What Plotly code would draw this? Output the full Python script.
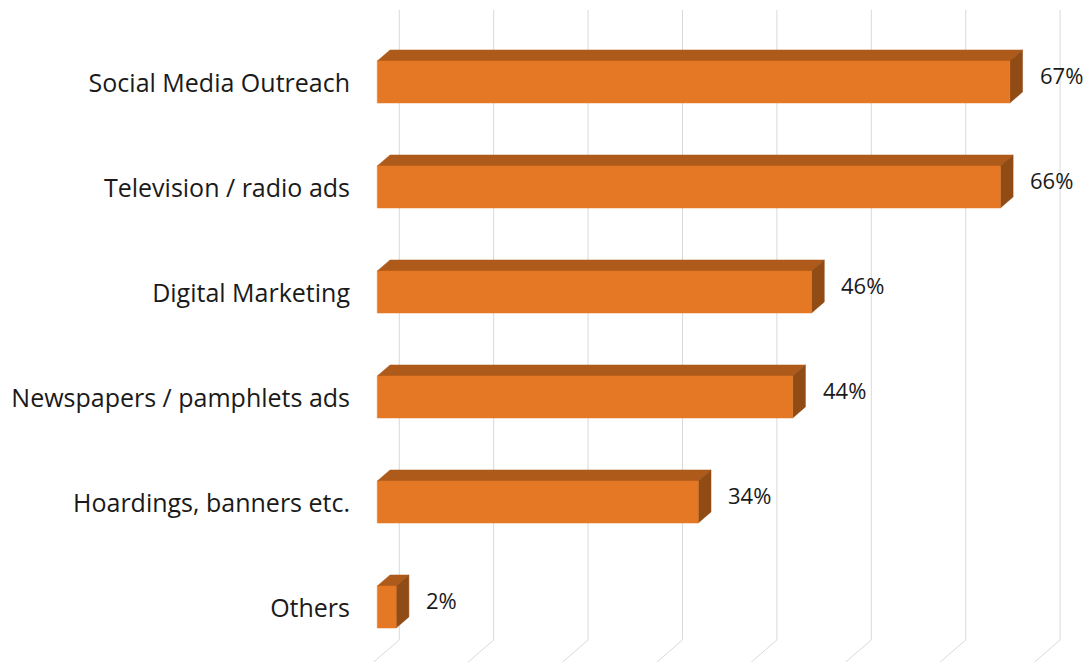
import plotly.graph_objects as go

# Survey results: share of respondents per promotion channel (%)
categories = [
    "Social Media Outreach",
    "Television / radio ads",
    "Digital Marketing",
    "Newspapers / pamphlets ads",
    "Hoardings, banners etc.",
    "Others",
]
values = [67, 66, 46, 44, 34, 2]
grid_ticks = [0, 10, 20, 30, 40, 50, 60, 70]
value_labels = ["67%", "66%", "46%", "44%", "34%", "2%"]

# Oblique 3D look: depth offsets in axis units
DX = 1.35      # bar depth along the value axis
DY = 0.105     # bar depth along the category axis
HALF = 0.2     # half of the bar thickness
WALL_X = 2.33  # back wall offset
FLOOR_BACK = 5.314
GRID_TOP = -0.686

FRONT = "#E57824"
TOP = "#AD5A1B"
SIDE = "#914C16"
GRID = "#d9d9d9"
FONT = "Open Sans"

fig = go.Figure()

# perspective gridlines: vertical on the back wall, then slanting across the floor
for t in grid_ticks:
    xb = t + WALL_X
    fig.add_trace(go.Scatter(
        x=[xb, xb, xb - 2.6 * DX],
        y=[GRID_TOP, FLOOR_BACK, FLOOR_BACK + 2.6 * DY],
        mode="lines", line=dict(color=GRID, width=1),
        hoverinfo="skip", showlegend=False,
    ))

def poly(xs, ys, color):
    fig.add_trace(go.Scatter(
        x=xs + [xs[0]], y=ys + [ys[0]], mode="lines", fill="toself",
        fillcolor=color, line=dict(color=color, width=0.5),
        hoverinfo="skip", showlegend=False,
    ))

for i, v in enumerate(values):
    y0, y1 = i - HALF, i + HALF
    # top face
    poly([0, v, v + DX, DX], [y0, y0, y0 - DY, y0 - DY], TOP)
    # right side face
    poly([v, v + DX, v + DX, v], [y0, y0 - DY, y1 - DY, y1], SIDE)
    # front face
    poly([0, v, v, 0], [y0, y0, y1, y1], FRONT)

for i, (v, lab) in enumerate(zip(values, value_labels)):
    fig.add_annotation(
        x=v + DX + 1.6, y=i - 0.07, xref="x", yref="y", text=lab,
        showarrow=False, xanchor="left", yanchor="middle",
        font=dict(family=FONT, size=22, color="#1a1a1a"),
    )

fig.update_layout(
    width=1089, height=662,
    margin=dict(l=360, r=0, t=0, b=0),
    paper_bgcolor="white", plot_bgcolor="white",
    xaxis=dict(range=[-1.83, 75.39], showgrid=False, zeroline=False,
               showticklabels=False, showline=False, fixedrange=True),
    yaxis=dict(range=[5.524, -0.781], showgrid=False, zeroline=False,
               tickvals=[i + 0.015 for i in range(len(categories))],
               ticktext=categories,
               ticks="", ticklabelstandoff=9, showline=False,
               tickfont=dict(family=FONT, size=25, color="#1a1a1a"),
               fixedrange=True),
)

fig.write_html("out.html")
